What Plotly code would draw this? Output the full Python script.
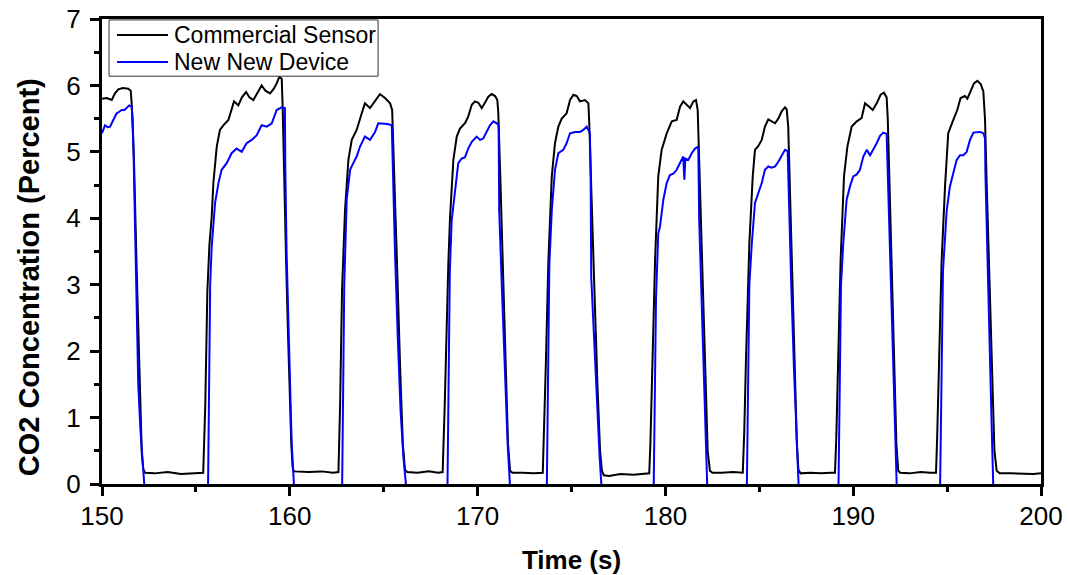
import plotly.graph_objects as go

# ---- Data ----
commercial_t = [
    150.0, 150.25, 150.52, 150.69, 150.87, 151.1, 151.4, 151.53, 151.58,
    151.7, 151.85, 152.0, 152.12, 152.2, 152.3,
    152.8, 153.5, 154.2, 154.9, 155.39,
    155.5, 155.61, 155.72, 155.84, 155.93, 156.02, 156.11, 156.28, 156.46, 156.73,
    157.03, 157.26, 157.45, 157.67, 157.85, 158.06, 158.3, 158.5, 158.7, 158.95,
    159.15, 159.3, 159.44, 159.57, 159.62,
    159.68, 159.8, 159.9, 159.99, 160.08, 160.15, 160.22,
    161.0, 161.7, 162.3, 162.59,
    162.68, 162.78, 162.94, 163.12, 163.3, 163.56, 163.83, 164.0, 164.27, 164.54,
    164.8, 165.07, 165.34, 165.45,
    165.55, 165.7, 165.88, 166.02, 166.13, 166.25,
    166.8, 167.4, 167.9, 168.14,
    168.25, 168.35, 168.44, 168.53, 168.62, 168.71, 168.89, 169.06, 169.33, 169.5,
    169.69, 169.86, 170.04, 170.22, 170.39, 170.57, 170.75, 170.93, 171.05, 171.1,
    171.2, 171.35, 171.5, 171.62, 171.73, 171.85,
    172.4, 173.0, 173.47,
    173.56, 173.64, 173.77, 173.95, 174.12, 174.3, 174.48, 174.74, 174.92, 175.1,
    175.28, 175.45, 175.72, 175.9, 175.95,
    176.05, 176.2, 176.38, 176.52, 176.62, 176.72,
    177.0, 177.6, 178.3, 178.8, 179.14,
    179.2, 179.27, 179.45, 179.62, 179.8, 180.07, 180.34, 180.6, 180.78, 180.95,
    181.13, 181.31, 181.49, 181.63, 181.72,
    181.8, 181.95, 182.1, 182.25, 182.37, 182.5,
    183.0, 183.6, 184.12,
    184.2, 184.29, 184.47, 184.65, 184.77, 184.95, 185.13, 185.3, 185.48, 185.66,
    185.84, 186.01, 186.19, 186.37, 186.46, 186.54,
    186.62, 186.75, 186.9, 187.0, 187.08, 187.2,
    187.7, 188.3, 188.8, 189.03,
    189.1, 189.15, 189.33, 189.51, 189.69, 189.92, 190.19, 190.45, 190.63, 190.81,
    191.04, 191.25, 191.46, 191.64, 191.78, 191.84,
    191.92, 192.05, 192.2, 192.3, 192.4, 192.5,
    193.0, 193.6, 194.1, 194.41,
    194.47, 194.53, 194.71, 194.89, 195.06, 195.33, 195.54, 195.72, 195.95, 196.08,
    196.26, 196.43, 196.61, 196.79, 196.93, 197.02,
    197.1, 197.25, 197.4, 197.52, 197.64, 197.8,
    198.4, 199.0, 199.6, 200.0,
]
commercial_v = [
    5.80, 5.81, 5.78, 5.88, 5.94, 5.96, 5.95, 5.92, 5.73,
    4.90, 3.20, 1.50, 0.45, 0.22, 0.17,
    0.16, 0.18, 0.15, 0.16, 0.17,
    1.20, 2.90, 3.60, 4.02, 4.53, 4.88, 5.08, 5.33, 5.40, 5.48,
    5.76, 5.70, 5.82, 5.90, 5.82, 5.78, 5.90, 6.00, 5.92, 5.88,
    5.95, 6.03, 6.13, 6.10, 5.68,
    4.80, 3.40, 2.30, 1.40, 0.60, 0.25, 0.19,
    0.18, 0.19, 0.17, 0.18,
    1.20, 2.90, 4.12, 4.88, 5.18, 5.33, 5.58, 5.73, 5.66, 5.76,
    5.87, 5.81, 5.73, 5.63,
    4.80, 3.40, 1.70, 0.60, 0.22, 0.18,
    0.17, 0.19, 0.17, 0.18,
    1.20, 2.40, 3.30, 4.00, 4.38, 4.88, 5.23, 5.35, 5.43, 5.53,
    5.71, 5.76, 5.74, 5.66, 5.74, 5.83, 5.87, 5.84, 5.78, 5.60,
    4.70, 3.20, 1.70, 0.60, 0.20, 0.17,
    0.17, 0.16, 0.17,
    1.00, 1.87, 3.37, 4.63, 5.13, 5.38, 5.50, 5.58, 5.78, 5.86,
    5.84, 5.76, 5.78, 5.73, 5.40,
    4.60, 3.10, 1.50, 0.50, 0.20, 0.13,
    0.12, 0.15, 0.14, 0.15, 0.16,
    0.60, 1.37, 3.37, 4.63, 5.03, 5.28, 5.46, 5.48, 5.68, 5.76,
    5.71, 5.66, 5.76, 5.78, 5.63,
    4.80, 3.30, 1.70, 0.50, 0.20, 0.17,
    0.17, 0.18, 0.17,
    0.80, 1.87, 3.62, 4.63, 5.03, 5.09, 5.18, 5.38, 5.49, 5.46,
    5.43, 5.50, 5.61, 5.67, 5.64, 5.38,
    4.60, 3.20, 1.60, 0.60, 0.22, 0.16,
    0.17, 0.16, 0.17, 0.17,
    0.70, 1.37, 3.37, 4.63, 5.08, 5.38, 5.46, 5.51, 5.73, 5.69,
    5.63, 5.73, 5.86, 5.89, 5.82, 5.50,
    4.70, 3.20, 1.60, 0.60, 0.20, 0.17,
    0.16, 0.18, 0.17, 0.17,
    0.70, 1.37, 3.37, 4.48, 5.28, 5.48, 5.63, 5.81, 5.84, 5.80,
    5.91, 6.03, 6.07, 6.02, 5.91, 5.48,
    4.60, 3.00, 1.40, 0.50, 0.20, 0.16,
    0.16, 0.15, 0.15, 0.16,
]

device_t = [
    150.0, 150.08, 150.16, 150.3, 150.43, 150.6, 150.78, 150.9, 151.05, 151.2,
    151.32, 151.45, 151.58, 151.63, 151.67, 151.75, 151.83, 151.93, 152.05, 152.15,
    152.24, 152.3,
    155.64, 155.76, 155.84, 156.02, 156.2, 156.37, 156.64, 156.9, 157.17, 157.44,
    157.7, 157.97, 158.24, 158.5, 158.77, 159.04, 159.3, 159.57, 159.74,
    159.76, 159.83, 159.92, 160.01, 160.1, 160.22, 160.26,
    162.78, 162.9, 163.03, 163.21, 163.38, 163.56, 163.74, 164.0, 164.27, 164.54,
    164.71, 164.98, 165.2, 165.43,
    165.47, 165.6, 165.75, 165.9, 166.05, 166.2, 166.25,
    168.39, 168.52, 168.62, 168.8, 168.97, 169.15, 169.33, 169.5, 169.69, 169.95,
    170.13, 170.3, 170.48, 170.66, 170.84, 171.02, 171.12,
    171.15, 171.3, 171.45, 171.6, 171.73, 171.78,
    173.68, 173.82, 173.95, 174.12, 174.3, 174.56, 174.74, 174.92, 175.19, 175.45,
    175.63, 175.81, 175.98,
    176.02, 176.05, 176.2, 176.35, 176.5, 176.6, 176.65,
    179.37, 179.5, 179.62, 179.71, 179.89, 180.07, 180.24, 180.42, 180.6, 180.78,
    180.95, 181.01, 181.06, 181.22, 181.4, 181.58, 181.75,
    181.8, 181.92, 182.05, 182.15, 182.23, 182.28,
    184.33, 184.47, 184.6, 184.77, 184.95, 185.13, 185.3, 185.48, 185.66, 185.84,
    186.01, 186.19, 186.37, 186.51,
    186.56, 186.7, 186.85, 186.97, 187.08, 187.12,
    189.21, 189.35, 189.47, 189.65, 189.83, 190.0, 190.19, 190.36, 190.54, 190.72,
    190.9, 191.07, 191.25, 191.43, 191.6, 191.78,
    191.84, 191.98, 192.1, 192.22, 192.32, 192.36,
    194.62, 194.78, 194.98, 195.15, 195.33, 195.51, 195.69, 195.86, 196.04, 196.22,
    196.4, 196.57, 196.75, 196.93, 197.02,
    197.04, 197.15, 197.27, 197.38, 197.46, 197.5,
    200.0,
]
device_v = [
    5.28, 5.35, 5.40, 5.37, 5.38, 5.48, 5.58, 5.60, 5.63, 5.63,
    5.66, 5.70, 5.68, 5.50, 5.13, 4.02, 2.57, 1.50, 0.80, 0.35,
    -0.05, -0.20,
    -0.20, 3.00, 3.57, 4.23, 4.53, 4.73, 4.83, 4.98, 5.05, 5.00,
    5.13, 5.18, 5.25, 5.40, 5.38, 5.43, 5.63, 5.67, 5.66,
    4.78, 3.47, 2.37, 1.37, 0.61, 0.00, -0.20,
    -0.20, 3.00, 4.28, 4.73, 4.83, 4.93, 5.08, 5.23, 5.18, 5.30,
    5.43, 5.42, 5.42, 5.40,
    4.83, 3.50, 2.20, 1.10, 0.40, -0.05, -0.20,
    -0.20, 3.20, 3.97, 4.38, 4.83, 4.90, 4.92, 5.05, 5.15, 5.23,
    5.18, 5.20, 5.30, 5.40, 5.46, 5.43, 5.40,
    4.12, 2.90, 1.70, 0.60, -0.05, -0.20,
    -0.20, 3.30, 4.12, 4.73, 4.98, 5.03, 5.13, 5.28, 5.30, 5.30,
    5.33, 5.38, 5.28,
    4.60, 3.12, 2.20, 1.20, 0.40, -0.05, -0.20,
    -0.20, 2.80, 3.77, 3.87, 4.28, 4.53, 4.65, 4.67, 4.73, 4.83,
    4.93, 4.58, 4.90, 4.88, 4.98, 5.05, 5.08,
    3.97, 2.80, 1.60, 0.70, -0.05, -0.20,
    -0.20, 3.00, 3.62, 4.23, 4.38, 4.53, 4.73, 4.78, 4.76, 4.78,
    4.85, 4.93, 5.03, 5.01,
    4.38, 3.00, 1.70, 0.70, -0.05, -0.20,
    -0.20, 3.00, 3.62, 4.28, 4.48, 4.63, 4.66, 4.73, 4.93, 5.03,
    4.95, 5.03, 5.13, 5.24, 5.29, 5.27,
    4.63, 3.20, 2.00, 0.80, -0.05, -0.20,
    -0.20, 3.20, 4.12, 4.48, 4.68, 4.88, 4.95, 4.95, 5.00, 5.18,
    5.29, 5.30, 5.30, 5.28, 5.20,
    4.68, 3.30, 2.00, 0.80, -0.05, -0.20,
    -0.20,
]

x_ticks = [150, 160, 170, 180, 190, 200]
y_ticks = [0, 1, 2, 3, 4, 5, 6, 7]

series_names = ["Commercial Sensor", "New New Device"]
series_colors = ["#000000", "#0000FF"]

FONT = "Liberation Sans, Arial, sans-serif"

fig = go.Figure()
fig.add_trace(go.Scatter(x=commercial_t, y=commercial_v, mode="lines",
                         name=series_names[0], showlegend=False,
                         line=dict(color=series_colors[0], width=2)))
fig.add_trace(go.Scatter(x=device_t, y=device_v, mode="lines",
                         name=series_names[1], showlegend=False,
                         line=dict(color=series_colors[1], width=2)))

axis_common = dict(
    showgrid=False, zeroline=False, showline=True, linecolor="#000000",
    linewidth=3, mirror=True, ticks="outside", tickwidth=2.5,
    tickcolor="#000000", ticklen=9, automargin=False,
    ticklabeloverflow="allow",
    tickfont=dict(family=FONT, size=26, color="#000000"),
)

fig.update_xaxes(
    range=[150, 200], tickvals=x_ticks, ticktext=[str(v) for v in x_ticks],
    minor=dict(dtick=5, tick0=150, ticks="outside", ticklen=5, tickwidth=2.5,
               tickcolor="#000000"),
    ticklabelstandoff=-2,
    title=dict(text="<b>Time (s)</b>", font=dict(family=FONT, size=26, color="#000000"),
               standoff=28),
    **axis_common,
)
fig.update_yaxes(
    range=[0, 7], tickvals=y_ticks, ticktext=[str(v) for v in y_ticks],
    minor=dict(dtick=0.5, tick0=0, ticks="outside", ticklen=5, tickwidth=2.5,
               tickcolor="#000000"),
    ticklabelstandoff=4,
    **axis_common,
)

fig.add_annotation(
    text="<b>CO2 Concentration (Percent)</b>", textangle=-90,
    xref="paper", yref="paper", x=-0.078, y=0.444,
    xanchor="center", yanchor="middle", showarrow=False,
    font=dict(family=FONT, size=29, color="#000000"),
)

# Legend box (drawn inside the plot, top-left)
fig.add_shape(type="rect", xref="paper", yref="paper",
              x0=0.0075, x1=0.294, y0=0.877, y1=0.998,
              line=dict(color="#333333", width=1), fillcolor="#ffffff",
              layer="above")
legend_rows_y = [0.9656, 0.9075]
for name, color, yy in zip(series_names, series_colors, legend_rows_y):
    fig.add_shape(type="line", xref="paper", yref="paper",
                  x0=0.016, x1=0.0703, y0=yy, y1=yy,
                  line=dict(color=color, width=2), layer="above")
    fig.add_annotation(text=name, xref="paper", yref="paper",
                       x=0.0745, y=yy, xanchor="left", yanchor="middle",
                       showarrow=False,
                       font=dict(family=FONT, size=23, color="#000000"))

fig.update_layout(
    width=1068, height=575,
    margin=dict(l=102, r=27, t=19, b=91, autoexpand=False),
    paper_bgcolor="#ffffff", plot_bgcolor="#ffffff",
    showlegend=False,
)

# remove the browser's default page margin so the figure fills the window
fig.write_html(
    "out.html",
    config={"displayModeBar": False},
    post_script="document.body.style.margin='0';document.body.style.overflow='hidden';",
)
